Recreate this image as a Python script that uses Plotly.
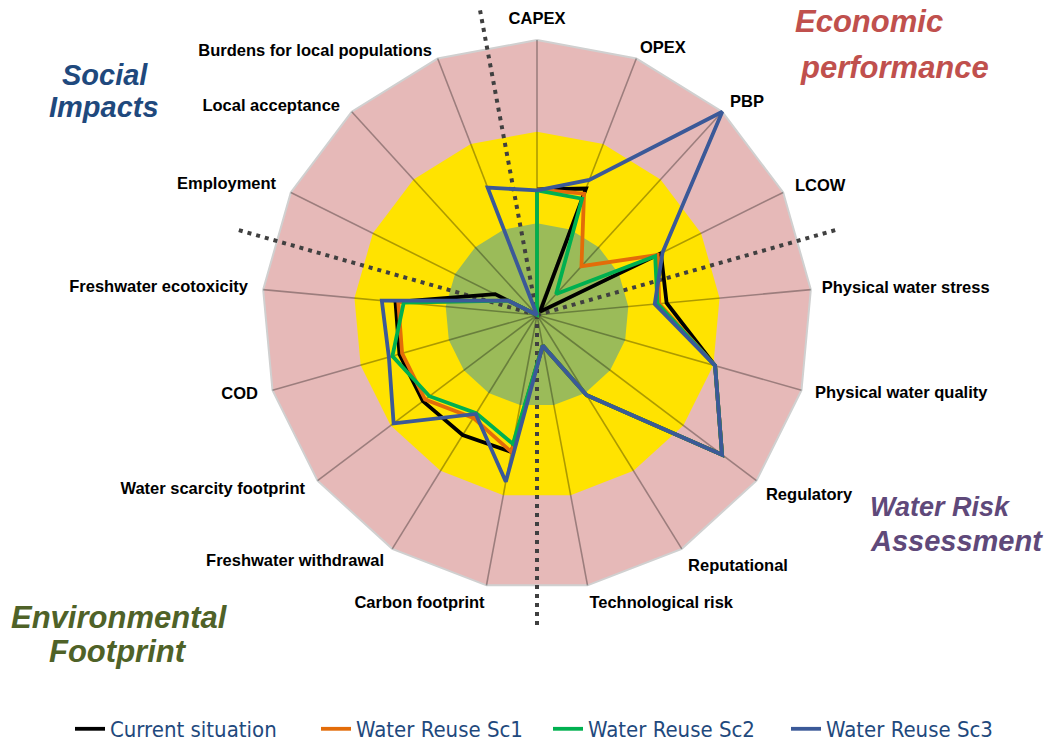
import plotly.graph_objects as go

categories = ["CAPEX", "OPEX", "PBP", "LCOW", "Physical water stress", "Physical water quality",
              "Regulatory", "Reputational", "Technological risk", "Carbon footprint",
              "Freshwater withdrawal", "Water scarcity footprint", "COD", "Freshwater ecotoxicity",
              "Employment", "Local acceptance", "Burdens for local populations"]

current_situation = [1.37, 1.48, 0.05, 1.51, 1.42, 2.02, 2.53, 1.03, 0.34, 1.52, 1.54, 1.56, 1.56, 1.55, 0.51, 0.0, 0.0]
water_reuse_sc1 = [1.37, 1.42, 0.72, 1.47, 1.34, 2.02, 2.53, 1.03, 0.34, 1.52, 1.32, 1.53, 1.53, 1.52, 0.35, 0.0, 0.0]
water_reuse_sc2 = [1.36, 1.36, 0.31, 1.44, 1.32, 2.02, 2.53, 1.03, 0.34, 1.43, 1.26, 1.47, 1.64, 1.46, 0.35, 0.0, 0.0]
water_reuse_sc3 = [1.36, 1.58, 3.00, 1.53, 1.29, 2.02, 2.53, 1.03, 0.34, 1.85, 1.27, 1.96, 1.68, 1.70, 0.35, 0.0, 1.49]

series_names = ["Current situation", "Water Reuse Sc1", "Water Reuse Sc2", "Water Reuse Sc3"]
band_levels = [3, 2, 1]
divider_positions = [16.5, 3.5, 8.5, 13.5]  # between category groups (in category index units)
r_max = 3.4

n = len(categories)
step = 360.0 / n
thetas = [i * step for i in range(n)]

band_colors = ["#E6B9B8", "#FFE300", "#9BBB59"]
series_colors = ["#000000", "#E36C09", "#00B050", "#3B5998"]

fig = go.Figure()

# background bands (polygons)
for lvl, col in zip(band_levels, band_colors):
    fig.add_trace(go.Scatterpolar(
        r=[lvl] * (n + 1), theta=thetas + [thetas[0]], mode="lines", fill="toself",
        fillcolor=col, line=dict(color="#D0D0D0" if lvl == 3 else col, width=2 if lvl == 3 else 0),
        showlegend=False, hoverinfo="skip"))

# spokes
sr, st = [], []
for t in thetas:
    sr += [0, band_levels[0], None]
    st += [t, t, None]
fig.add_trace(go.Scatterpolar(r=sr, theta=st, mode="lines",
                              line=dict(color="rgba(0,0,0,0.32)", width=1.6),
                              showlegend=False, hoverinfo="skip"))

# dotted dividers
for d in divider_positions:
    fig.add_trace(go.Scatterpolar(r=[0, r_max], theta=[d * step, d * step], mode="lines",
                                  line=dict(color="#404040", width=4, dash="4px,5px"),
                                  showlegend=False, hoverinfo="skip", cliponaxis=False))

# data series
all_series = [current_situation, water_reuse_sc1, water_reuse_sc2, water_reuse_sc3]
legend_ids = ["legend", "legend2", "legend3", "legend4"]
for name, vals, col, lg in zip(series_names, all_series, series_colors, legend_ids):
    fig.add_trace(go.Scatterpolar(r=vals + [vals[0]], theta=thetas + [thetas[0]], mode="lines",
                                  name=name, line=dict(color=col, width=3.8), legend=lg,
                                  hoverinfo="skip"))

# category labels
label_pos = ["top center", "middle right", "middle right", "middle right", "middle right", "middle right",
             "bottom right", "bottom right", "bottom right", "bottom left", "middle left",
             "middle left", "middle left", "middle left", "middle left", "bottom left", "bottom left"]
label_r = [3.13, 3.11, 3.125, 3.144, 3.12, 3.153, 3.13, 3.13, 3.11, 3.11, 3.171, 3.171, 3.165, 3.166,
           3.18, 3.19, 3.17]
fig.add_trace(go.Scatterpolar(r=label_r, theta=thetas, mode="text",
                              text=["<b>" + c + "</b>" for c in categories],
                              textposition=label_pos, cliponaxis=False,
                              textfont=dict(family="Liberation Sans, Arial, sans-serif", size=16.5, color="#000000"),
                              showlegend=False, hoverinfo="skip"))

W, H = 1048, 741
cx, cy = 537, 315
Rpx = 275 * r_max / 3
fig.update_layout(
    width=W, height=H, margin=dict(l=0, r=0, t=0, b=0, autoexpand=False),
    paper_bgcolor="white", plot_bgcolor="white",
    polar=dict(
        domain=dict(x=[(cx - Rpx) / W, (cx + Rpx) / W], y=[(H - cy - Rpx) / H, (H - cy + Rpx) / H]),
        bgcolor="rgba(0,0,0,0)",
        radialaxis=dict(range=[0, r_max], visible=False),
        angularaxis=dict(rotation=90, direction="clockwise", showgrid=False, showline=False,
                         showticklabels=False, ticks=""),
    ),
)

legend_font = dict(family="Liberation Sans Narrow, DejaVu Sans Condensed, sans-serif", size=22, color="#1F497D")
text_x = [112, 358, 590, 828]
for lg, tx in zip(legend_ids, text_x):
    fig.update_layout({lg: dict(x=(tx - 42) / W, y=(H - 729) / H, xanchor="left", yanchor="middle",
                                font=legend_font, bgcolor="rgba(0,0,0,0)", orientation="h")})

title_font = "Liberation Sans, Arial, sans-serif"
titles = [
    ("<b><i>Economic</i></b>", 869, 22, 31, "#C0504D"),
    ("<b><i>performance</i></b>", 894, 68, 31, "#C0504D"),
    ("<b><i>Social</i></b>", 105, 75, 29, "#1F497D"),
    ("<b><i>Impacts</i></b>", 104, 107, 29, "#1F497D"),
    ("<b><i>Water Risk</i></b>", 940, 507, 27, "#5F497A"),
    ("<b><i>Assessment</i></b>", 956, 541, 29, "#5F497A"),
    ("<b><i>Environmental</i></b>", 119, 617, 31, "#4F6228"),
    ("<b><i>Footprint</i></b>", 118, 651, 31, "#4F6228"),
]
for txt, x, y, sz, col in titles:
    fig.add_annotation(text=txt, x=x / W, y=(H - y) / H, xref="paper", yref="paper",
                       xanchor="center", yanchor="middle", showarrow=False,
                       font=dict(family=title_font, size=sz, color=col))

fig.write_html("out.html", post_script="document.body.style.margin='0px';",
               config={"displayModeBar": False})
